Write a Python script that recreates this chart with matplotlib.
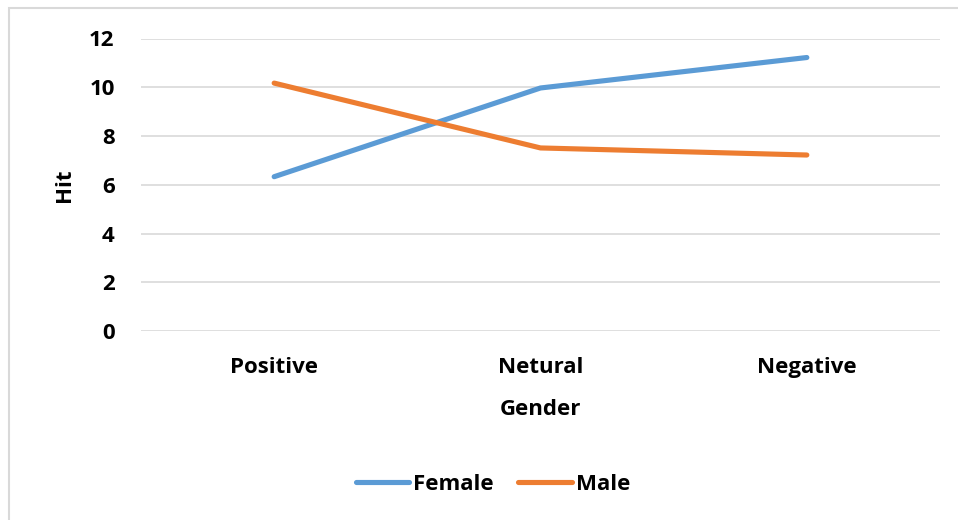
import matplotlib
matplotlib.use("Agg")
import matplotlib.pyplot as plt
from matplotlib.patches import Rectangle

# valeurs par catégorie
categories = ['Positive', 'Netural', 'Negative']
female = [6.33, 9.97, 11.22]
male = [10.17, 7.51, 7.22]
yticks = [0, 2, 4, 6, 8, 10, 12]

blue = '#5B9BD5'
orange = '#ED7D31'
grid_col = '#D9D9D9'

plt.rcParams['font.family'] = ['Open Sans', 'DejaVu Sans']
plt.rcParams['font.weight'] = 'bold'
fs = 16

fig = plt.figure(figsize=(9.58, 5.2), dpi=100)
ax = fig.add_axes([141/958, 1-331/520, 799/958, (331-38.5)/520])

x = range(len(categories))
ax.plot(x, female, color=blue, lw=3.7, solid_capstyle='round', label='Female')
ax.plot(x, male, color=orange, lw=3.7, solid_capstyle='round', label='Male')

ax.set_xlim(-0.5, len(categories) - 0.5)
ax.set_ylim(0, 12)
ax.set_yticks(yticks)
ax.set_xticks(list(x))
ax.set_xticklabels(categories)
ax.tick_params(axis='both', length=0, labelsize=fs)
ax.tick_params(axis='y', pad=19)
ax.tick_params(axis='x', pad=19)
for lab in ax.get_xticklabels() + ax.get_yticklabels():
    lab.set_fontweight('bold')
ax.grid(axis='y', color=grid_col, lw=1.2)
ax.set_axisbelow(True)
for s in ax.spines.values():
    s.set_visible(False)

ax.set_ylabel('Hit', fontsize=fs, fontweight='bold', labelpad=10)
ax.set_xlabel('Gender', fontsize=fs, fontweight='bold', labelpad=15)

leg = fig.legend(loc='center', bbox_to_anchor=(493/958, 1-484/520), ncol=2,
                 frameon=False, fontsize=fs, handlelength=2.4, handletextpad=0.2,
                 columnspacing=1.1)
for t in leg.get_texts():
    t.set_fontweight('bold')

# cadre gris du graphique
fig.patches.append(Rectangle((9/958, -0.1), 1.1, 1 - 8/520 + 0.1, transform=fig.transFigure,
                             fill=False, edgecolor=grid_col, lw=1.5))

fig.savefig('out.png', dpi=100)
